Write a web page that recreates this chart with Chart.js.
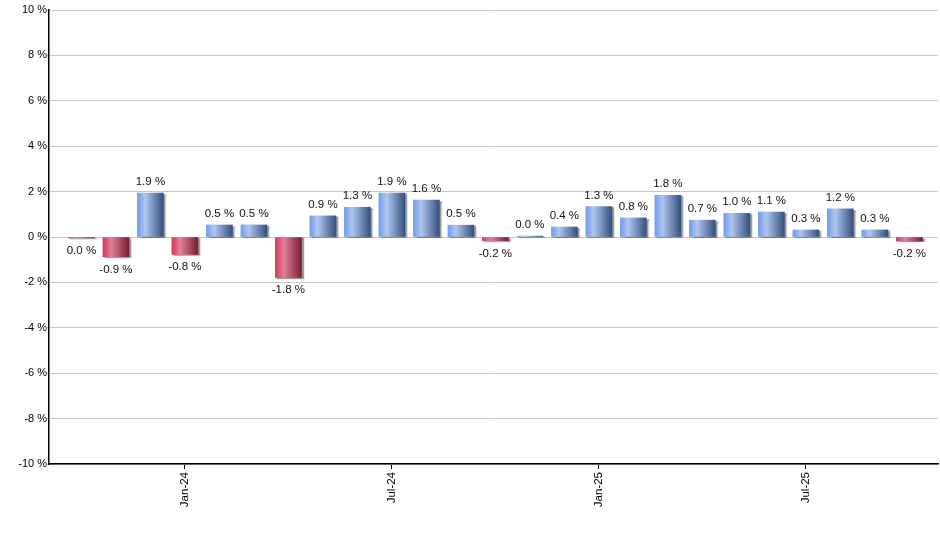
<!DOCTYPE html>
<html>
<head>
<meta charset="utf-8">
<style>
html,body{margin:0;padding:0;background:#fff;}
canvas{display:block;}
</style>
<script src="https://cdn.jsdelivr.net/npm/chart.js@4.4.1/dist/chart.umd.min.js"></script>
</head>
<body>
<canvas id="c" width="940" height="550"></canvas>
<script>
const months = ['Oct-23','Nov-23','Dec-23','Jan-24','Feb-24','Mar-24','Apr-24','May-24','Jun-24','Jul-24','Aug-24','Sep-24',
                'Oct-24','Nov-24','Dec-24','Jan-25','Feb-25','Mar-25','Apr-25','May-25','Jun-25','Jul-25','Aug-25','Sep-25','Oct-25'];
const changes = [-0.04,-0.87,1.94,-0.77,0.53,0.53,-1.78,0.93,1.31,1.94,1.63,0.52,
                 -0.16,0.04,0.44,1.34,0.84,1.84,0.74,1.04,1.1,0.31,1.24,0.31,-0.18];
const tickMonths = ['Jan-24','Jul-24','Jan-25','Jul-25'];
const yMin = -10, yMax = 10, yStep = 2;

Chart.defaults.font.family = "'Liberation Sans', Arial, sans-serif";
Chart.defaults.font.size = 11;
Chart.defaults.color = '#000';

function fmt(v){ return (Math.abs(v) < 0.05 ? '0.0' : v.toFixed(1)) + ' %'; }

function barGradient(ctx){
  const chart = ctx.chart;
  const xs = chart.scales && chart.scales.x;
  if (!xs || !chart.chartArea || ctx.dataIndex === undefined) return '#7aa4f4';
  const cx = xs.getPixelForValue(ctx.dataIndex);
  const half = 13;
  const g = chart.ctx.createLinearGradient(cx - half, 0, cx + half, 0);
  const v = changes[ctx.dataIndex];
  if (v >= 0) {
    g.addColorStop(0, '#709cf0');
    g.addColorStop(0.3, '#b0c6ef');
    g.addColorStop(1, '#34507e');
  } else {
    g.addColorStop(0, '#d8345c');
    g.addColorStop(0.32, '#e28198');
    g.addColorStop(1, '#761c32');
  }
  return g;
}

const shadowPlugin = {
  id: 'barShadow',
  beforeDatasetDraw(chart){
    const c = chart.ctx; c.save();
    c.shadowColor = 'rgba(0,0,0,0.4)';
    c.shadowOffsetX = 2; c.shadowOffsetY = 1; c.shadowBlur = 1;
  },
  afterDatasetDraw(chart){ chart.ctx.restore(); }
};

const labelPlugin = {
  id: 'valueLabels',
  afterDatasetsDraw(chart){
    const c = chart.ctx;
    const meta = chart.getDatasetMeta(0);
    c.save();
    c.font = "11.5px 'Liberation Sans', Arial, sans-serif";
    c.fillStyle = '#111';
    c.textAlign = 'center';
    c.textBaseline = 'alphabetic';
    meta.data.forEach((el, i) => {
      const v = changes[i];
      const showAbove = v >= 0;
      const y = showAbove ? el.y - 8 : el.y + 16;
      c.fillText(fmt(v), el.x, y);
    });
    c.restore();
  }
};

new Chart(document.getElementById('c'), {
  type: 'bar',
  data: {
    datasets: [{
      data: changes.map((v, i) => ({x: i, y: v})),
      backgroundColor: barGradient,
      borderWidth: 0,
      barThickness: 26
    }]
  },
  options: {
    responsive: false,
    animation: false,
    layout: { padding: { top: 10, right: 2, left: 0, bottom: 0 } },
    plugins: { legend: { display: false }, tooltip: { enabled: false } },
    scales: {
      x: {
        type: 'linear',
        offset: false,
        bounds: 'ticks',
        min: -0.94,
        max: 24.83,
        afterBuildTicks(scale){
          scale.ticks = tickMonths.map(m => ({ value: months.indexOf(m) }));
        },
        afterFit(scale){ scale.height = 86; },
        ticks: {
          autoSkip: false,
          minRotation: 90,
          maxRotation: 90,
          padding: 3,
          color: '#000',
          font: { size: 11.5 },
          callback: (v) => months[v] || ''
        },
        grid: { display: true, offset: false, drawOnChartArea: false, drawTicks: true, tickLength: 5, color: '#000' },
        border: { display: true, color: '#000', width: 1.5 }
      },
      y: {
        min: yMin,
        max: yMax,
        afterFit(scale){ scale.width = 49; },
        ticks: {
          stepSize: yStep,
          padding: 0,
          color: '#000',
          font: { size: 11 },
          callback: (v) => v + ' %'
        },
        grid: { color: '#c8c8c8', lineWidth: 1, tickLength: 2 },
        border: { display: true, color: '#000', width: 1.5 }
      }
    }
  },
  plugins: [shadowPlugin, labelPlugin]
});
</script>
</body>
</html>
